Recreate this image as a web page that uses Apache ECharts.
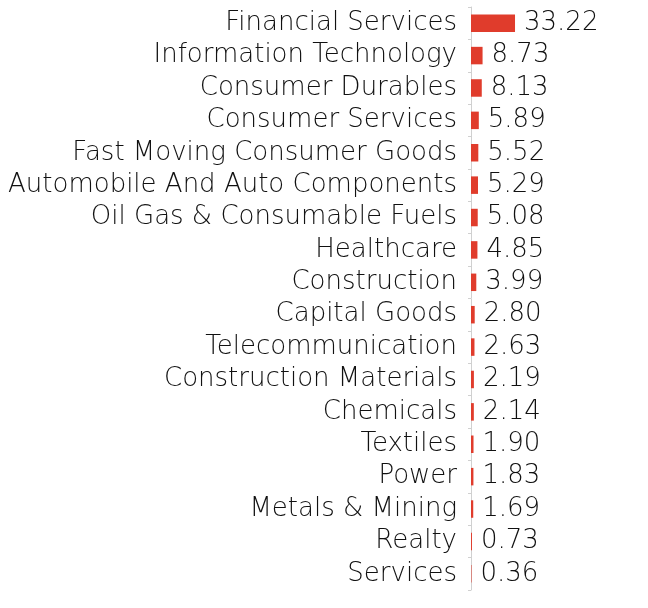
<!DOCTYPE html>
<html><head><meta charset="utf-8">
<script src="https://cdn.jsdelivr.net/npm/echarts@6/dist/echarts.min.js"></script>
<style>html,body{margin:0;padding:0;background:#fff}#c{width:648px;height:608px}</style>
</head><body><div id="c"></div>
<script>
const categories = ["Financial Services","Information Technology","Consumer Durables","Consumer Services","Fast Moving Consumer Goods","Automobile And Auto Components","Oil Gas & Consumable Fuels","Healthcare","Construction","Capital Goods","Telecommunication","Construction Materials","Chemicals","Textiles","Power","Metals & Mining","Realty","Services"];
const values = [33.22,8.73,8.13,5.89,5.52,5.29,5.08,4.85,3.99,2.80,2.63,2.19,2.14,1.90,1.83,1.69,0.73,0.36];
const FONT = "DejaVu Sans";
const chart = echarts.init(document.getElementById('c'), null, {renderer:'canvas'});
chart.setOption({
  animation:false,
  grid:{left:471, right:18, top:7, bottom:18, containLabel:false},
  xAxis:{type:'value', min:0, max:120, show:false},
  yAxis:{type:'category', inverse:true, data:categories,
    axisLine:{show:true, lineStyle:{color:'#d0d0d0', width:1}},
    axisTick:{show:true, length:3, interval:0, lineStyle:{color:'#d0d0d0'}},
    axisLabel:{margin:14, interval:0, hideOverlap:false, color:'#111', fontFamily:FONT, fontSize:26, fontWeight:200}
  },
  series:[{type:'bar', data:values, barWidth:'54%',
    itemStyle:{color:'#e03c2c'},
    label:{show:true, position:'right', distance:9, color:'#111', fontFamily:FONT, fontSize:26, fontWeight:200,
      formatter:p=>p.value.toFixed(2)}
  }]
});
</script></body></html>
